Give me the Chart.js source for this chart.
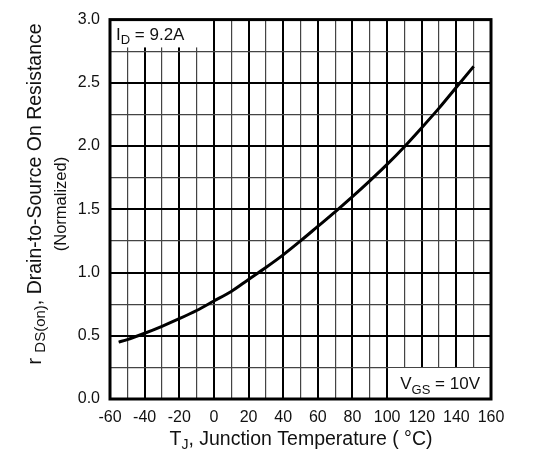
<!DOCTYPE html>
<html>
<head>
<meta charset="utf-8">
<script src="https://cdn.jsdelivr.net/npm/chart.js@4.4.1/dist/chart.umd.min.js"></script>
<style>
  html, body { margin: 0; padding: 0; background: #fff; }
  #wrap { width: 547px; height: 454px; }
</style>
</head>
<body>
<div id="wrap"><canvas id="chart" width="547" height="454"></canvas></div>
<script>
// Normalized rDS(on) vs junction temperature
const tempC   = [-55, -50, -40, -30, -20, -10, 0, 10, 20, 30, 40, 50, 60, 70, 80, 90, 100, 110, 120, 130, 140, 150];
const rdsNorm = [0.45, 0.47, 0.52, 0.575, 0.635, 0.70, 0.775, 0.85, 0.945, 1.04, 1.14, 1.25, 1.365, 1.48, 1.60, 1.725, 1.855, 1.995, 2.145, 2.30, 2.465, 2.63];
const xLabelTicks = [-60, -40, -20, 0, 20, 40, 60, 80, 100, 120, 140, 160];
const yLabelTicks = [0, 0.5, 1.0, 1.5, 2.0, 2.5, 3.0];

const FONT = '"Liberation Sans", Arial, Helvetica, sans-serif';

// draw text pieces (with subscripts) left to right, returns total width
function richWidth(ctx, parts) {
  let w = 0;
  parts.forEach(p => { ctx.font = p.size + 'px ' + FONT; w += ctx.measureText(p.text).width; });
  return w;
}
function drawRich(ctx, parts, x, y) {
  parts.forEach(p => {
    ctx.font = p.size + 'px ' + FONT;
    ctx.fillText(p.text, x, y + (p.dy || 0));
    x += ctx.measureText(p.text).width;
  });
}

const overlay = {
  id: 'overlay',
  afterDraw(chart) {
    const { ctx, chartArea: a, scales } = chart;
    const xs = scales.x, ys = scales.y;
    ctx.save();

    // label boxes hide the grid behind them
    ctx.fillStyle = '#fff';
    ctx.fillRect(a.left, a.top, xs.getPixelForValue(-1.2) - a.left, ys.getPixelForValue(2.78) - a.top);
    const bx = xs.getPixelForValue(100.6), by = ys.getPixelForValue(0.245);
    ctx.fillRect(bx, by, a.right - bx, a.bottom - by);

    // frame
    ctx.strokeStyle = '#000';
    ctx.lineWidth = 3;
    ctx.strokeRect(a.left, a.top, a.right - a.left, a.bottom - a.top);

    ctx.fillStyle = '#111';
    ctx.textBaseline = 'alphabetic';
    ctx.textAlign = 'left';

    // in-plot labels
    drawRich(ctx, [{ text: 'I', size: 17 }, { text: 'D', size: 13, dy: 4 }, { text: ' = 9.2A', size: 17 }], a.left + 6, a.top + 20.5);
    const vgs = [{ text: 'V', size: 17 }, { text: 'GS', size: 13, dy: 5 }, { text: ' = 10V', size: 17 }];
    drawRich(ctx, vgs, a.right - 11 - richWidth(ctx, vgs), a.bottom - 10.5);

    // x title
    const xt = [{ text: 'T', size: 19.5 }, { text: 'J', size: 14, dy: 4 }, { text: ', Junction Temperature ( °C)', size: 19.5 }];
    drawRich(ctx, xt, 301 - richWidth(ctx, xt) / 2, 444.5);

    // y title, two lines
    const yt = [{ text: 'r ', size: 19.5 }, { text: 'DS(on)', size: 15, dy: 4 }, { text: ', Drain-to-Source On Resistance', size: 19.5 }];
    ctx.save();
    ctx.translate(41, 194);
    ctx.rotate(-Math.PI / 2);
    drawRich(ctx, yt, -richWidth(ctx, yt) / 2, 0);
    ctx.restore();
    const yt2 = [{ text: '(Normalized)', size: 16.5 }];
    ctx.save();
    ctx.translate(65.5, 204);
    ctx.rotate(-Math.PI / 2);
    drawRich(ctx, yt2, -richWidth(ctx, yt2) / 2, 0);
    ctx.restore();

    ctx.restore();
  }
};

new Chart(document.getElementById('chart'), {
  type: 'line',
  data: {
    datasets: [{
      data: tempC.map((t, i) => ({ x: t, y: rdsNorm[i] })),
      borderColor: '#000',
      borderWidth: 3,
      pointRadius: 0,
      cubicInterpolationMode: 'monotone',
      fill: false
    }]
  },
  options: {
    responsive: false,
    animation: false,
    layout: { padding: { top: 17, right: 56, left: 0, bottom: 0 } },
    plugins: { legend: { display: false }, tooltip: { enabled: false } },
    scales: {
      x: {
        type: 'linear', min: -60, max: 160,
        ticks: {
          stepSize: 10, autoSkip: false, maxRotation: 0, padding: 9,
          color: '#111', font: { family: FONT, size: 16 },
          callback: v => xLabelTicks.includes(v) ? String(v) : ''
        },
        grid: {
          drawTicks: false,
          color: c => xLabelTicks.includes(c.tick && c.tick.value) ? '#000' : '#444',
          lineWidth: c => xLabelTicks.includes(c.tick && c.tick.value) ? 2 : 1.2
        },
        border: { display: false },
        afterFit: s => { s.height = 55; }
      },
      y: {
        type: 'linear', min: 0, max: 3,
        ticks: {
          stepSize: 0.25, autoSkip: false, padding: 10,
          color: '#111', font: { family: FONT, size: 16 },
          callback: v => yLabelTicks.includes(v) ? v.toFixed(1) : ''
        },
        grid: {
          drawTicks: false,
          color: c => yLabelTicks.includes(c.tick && c.tick.value) ? '#000' : '#444',
          lineWidth: c => yLabelTicks.includes(c.tick && c.tick.value) ? 2 : 1.2
        },
        border: { display: false },
        afterFit: s => { s.width = 110; }
      }
    }
  },
  plugins: [overlay]
});
</script>
</body>
</html>
